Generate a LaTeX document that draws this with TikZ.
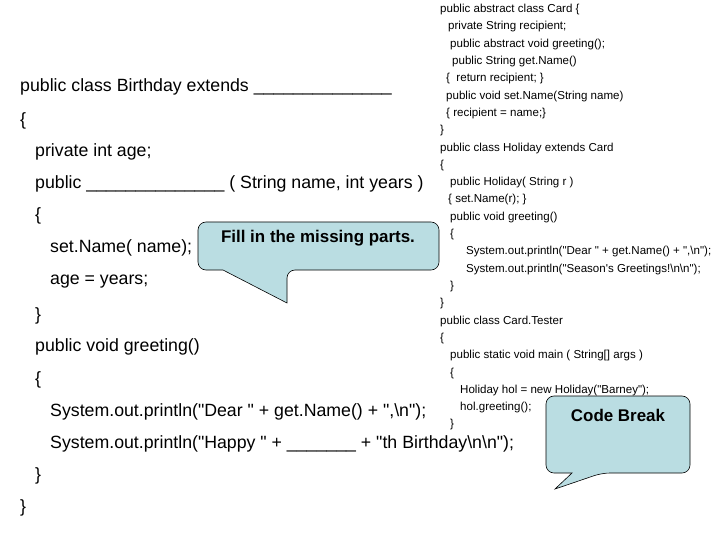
\documentclass[tikz,border=0pt]{standalone}
\usepackage{fontspec}
\setmainfont{Liberation Sans}[Ligatures=TeXOff]
\usetikzlibrary{calc}
\definecolor{calloutblue}{RGB}{186,221,226}
\newcommand{\bs}{\textbackslash}
\newcommand{\qq}{\symbol{34}}
\tikzset{
  bigcode/.style={anchor=west, inner sep=0pt, font=\fontsize{17.8}{20}\selectfont},
  smallcode/.style={anchor=west, inner sep=0pt, font=\fontsize{11.6}{13}\selectfont},
  callout/.style={draw=black, fill=calloutblue, line width=0.6pt, rounded corners=8pt},
  callouttext/.style={font=\fontsize{17}{19}\selectfont\bfseries}
}
\begin{document}
\begin{tikzpicture}[x=1bp, y=-1bp]
\useasboundingbox (0,0) rectangle (720,540);

% Birthday class
\node[bigcode] (b1) at (20,87) {public class Birthday extends \_\_\_\_\_\_\_\_\_\_\_\_\_\_};
\node[bigcode] (b2) at (20,121) {\{};
\node[bigcode] (b3) at (35,152) {private int age;};
\node[bigcode] (b4) at (35,184) {public \_\_\_\_\_\_\_\_\_\_\_\_\_\_ ( String name, int years )};
\node[bigcode] (b5) at (35,216) {\{};
\node[bigcode] (b6) at (50,248) {set.Name( name);};
\node[bigcode] (b7) at (50,282) {age = years;};
\node[bigcode] (b8) at (35,316) {\}};
\node[bigcode] (b9) at (35,347) {public void greeting()};
\node[bigcode] (b10) at (35,380) {\{};
\node[bigcode] (b11) at (50,412) {System.out.println(\qq Dear \qq{} + get.Name() + \qq,\bs n\qq);};
\node[bigcode] (b12) at (50,444) {System.out.println(\qq Happy \qq{} + \_\_\_\_\_\_\_ + \qq th Birthday\bs n\bs n\qq);};
\node[bigcode] (b13) at (35,476) {\}};
\node[bigcode] (b14) at (20,508) {\}};

% Card, Holiday and Card.Tester
\node[smallcode] (c1) at (440,10) {public abstract class Card \{};
\node[smallcode] (c2) at (448,27) {private String recipient;};
\node[smallcode] (c3) at (450,45) {public abstract void greeting();};
\node[smallcode] (c4) at (452,62) {public String get.Name()};
\node[smallcode] (c5) at (446,79) {\{ \ return recipient; \}};
\node[smallcode] (c6) at (446,97) {public void set.Name(String name)};
\node[smallcode] (c7) at (446,114) {\{ recipient = name;\}};
\node[smallcode] (c8) at (440,131) {\}};
\node[smallcode] (c9) at (440,149) {public class Holiday extends Card};
\node[smallcode] (c10) at (440,166) {\{};
\node[smallcode] (c11) at (450,183) {public Holiday( String r )};
\node[smallcode] (c12) at (448,200) {\{ set.Name(r); \}};
\node[smallcode] (c13) at (450,218) {public void greeting()};
\node[smallcode] (c14) at (450,235) {\{};
\node[smallcode] (c15) at (466,252) {System.out.println(\qq Dear \qq{} + get.Name() + \qq,\bs n\qq);};
\node[smallcode] (c16) at (466,270) {System.out.println(\qq Season's Greetings!\bs n\bs n\qq);};
\node[smallcode] (c17) at (450,287) {\}};
\node[smallcode] (c18) at (440,304) {\}};
\node[smallcode] (c19) at (440,322) {public class Card.Tester};
\node[smallcode] (c20) at (440,339) {\{};
\node[smallcode] (c21) at (450,356) {public static void main ( String[] args )};
\node[smallcode] (c22) at (450,374) {\{};
\node[smallcode] (c23) at (460,391) {Holiday hol = new Holiday(\qq Barney\qq);};
\node[smallcode] (c24) at (460,408) {hol.greeting();};
\node[smallcode] (c25) at (450,425) {\}};

% Callouts
\draw[callout] (198,222) -- (439,222) -- (439,270) -- (287,270)
  [sharp corners] -- (287,303) -- (223,270) [rounded corners=8pt] -- (198,270) -- cycle;
\node[callouttext] (fill) at (318,238) {Fill in the missing parts.};

\draw[callout] (546,396) -- (690,396) -- (690,473) -- (602,473)
  [sharp corners] -- (555,489) -- (572,473) [rounded corners=8pt] -- (546,473) -- cycle;
\node[callouttext] (brk) at (618,415) {Code Break};
\end{tikzpicture}
\end{document}
